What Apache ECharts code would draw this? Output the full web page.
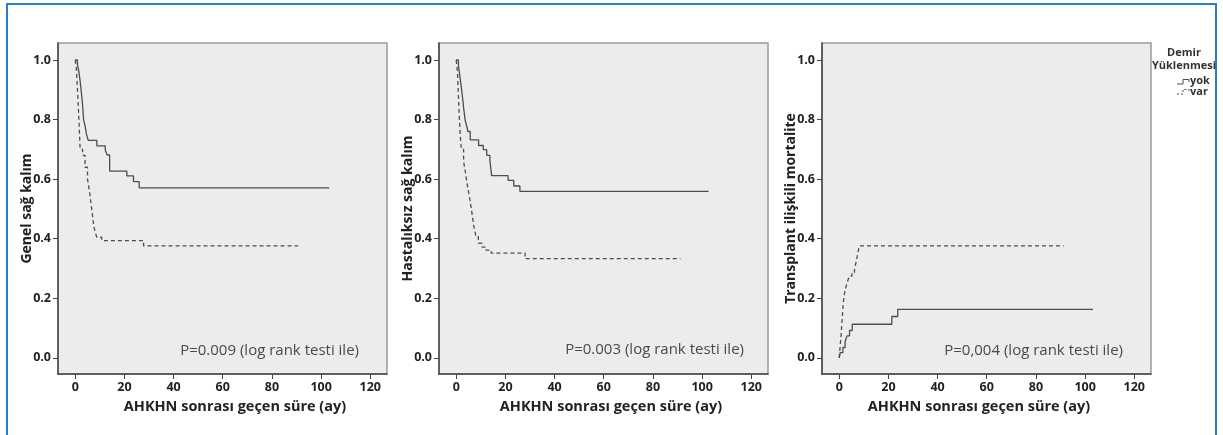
<!DOCTYPE html>
<html><head><meta charset="utf-8">
<script src="https://cdn.jsdelivr.net/npm/echarts@6/dist/echarts.min.js"></script>
<style>html,body{margin:0;padding:0;background:#fff}#c{width:1223px;height:435px}</style>
</head><body><div id="c"></div>
<script>
// ---- Data (Kaplan–Meier estimates) ----
const xTicks = [0, 20, 40, 60, 80, 100, 120];
const yTicks = [0, 0.2, 0.4, 0.6, 0.8, 1.0];
const xAxisTitle = 'AHKHN sonrası geçen süre (ay)';
const yAxisTitles = ['Genel sağ kalım', 'Hastalıksız sağ kalım', 'Transplant ilişkili mortalite'];
const pTexts = ['P=0.009 (log rank testi ile)', 'P=0.003 (log rank testi ile)', 'P=0,004 (log rank testi ile)'];
const legendTitle = ['Demir', 'Yüklenmesi'];
const groups = ['yok', 'var'];

// Panel 1: Genel sağ kalım
const os_yok_t = [0, 0.9, 1.5, 2.0, 2.5, 3.0, 3.4, 4.0, 4.6, 5.3, 8.8, 12.2, 13.0, 14.0, 21.0, 23.7, 26.0, 103.3];
const os_yok_s = [1.0, 0.985, 0.96, 0.93, 0.89, 0.85, 0.80, 0.78, 0.75, 0.73, 0.712, 0.698, 0.681, 0.627, 0.611, 0.592, 0.571, 0.571];
const os_var_t = [0, 0.5, 0.8, 1.1, 1.4, 1.7, 2.0, 3.0, 4.0, 5.0, 5.8, 6.4, 7.0, 7.6, 8.2, 8.8, 10.8, 27.8, 90.7];
const os_var_s = [1.0, 0.97, 0.92, 0.87, 0.82, 0.76, 0.70, 0.68, 0.64, 0.60, 0.56, 0.52, 0.48, 0.44, 0.42, 0.405, 0.394, 0.376, 0.376];

// Panel 2: Hastalıksız sağ kalım
const dfs_yok_t = [0, 0.9, 1.4, 1.9, 2.5, 3.0, 3.6, 4.2, 4.8, 5.7, 9.1, 11.0, 12.4, 13.7, 14.4, 21.1, 23.4, 25.9, 102.6];
const dfs_yok_s = [1.0, 0.982, 0.95, 0.92, 0.88, 0.84, 0.80, 0.78, 0.76, 0.732, 0.713, 0.699, 0.68, 0.663, 0.612, 0.596, 0.577, 0.559, 0.559];
const dfs_var_t = [0, 0.5, 0.9, 1.3, 1.7, 2.1, 3.0, 3.8, 4.5, 5.2, 5.8, 6.5, 7.2, 8.0, 9.0, 10.5, 12.0, 14.2, 28.0, 91.2];
const dfs_var_s = [1.0, 0.96, 0.88, 0.80, 0.74, 0.70, 0.66, 0.62, 0.58, 0.55, 0.52, 0.48, 0.44, 0.41, 0.385, 0.372, 0.362, 0.352, 0.333, 0.333];

// Panel 3: Transplant ilişkili mortalite
const trm_yok_t = [0, 0.4, 1.5, 2.4, 3.2, 4.2, 5.3, 21.4, 23.8, 103.2];
const trm_yok_s = [0.0, 0.018, 0.035, 0.055, 0.074, 0.092, 0.113, 0.139, 0.163, 0.163];
const trm_var_t = [0, 0.4, 0.8, 1.2, 1.6, 2.0, 2.8, 3.5, 4.2, 5.2, 6.2, 6.8, 7.3, 7.8, 8.2, 91.3];
const trm_var_s = [0.0, 0.04, 0.083, 0.13, 0.18, 0.21, 0.24, 0.26, 0.275, 0.285, 0.295, 0.32, 0.34, 0.36, 0.376, 0.376];

// ---- Layout / style ----
const FONT = '"Open Sans", "DejaVu Sans", sans-serif';
const LINE = '#4d4d4d';
const grids = [
  {left: 58, top: 43, width: 329, height: 331},
  {left: 439, top: 43, width: 329, height: 331},
  {left: 822, top: 43, width: 329, height: 331}
];
const xNamePad = [[0, 0, 0, 25], [0, 0, 0, 15], [0, 15, 0, 0]];
const pPos = [[359, 351], [744, 350], [1123, 351]];
const pairs = [[os_yok_t, os_yok_s, os_var_t, os_var_s], [dfs_yok_t, dfs_yok_s, dfs_var_t, dfs_var_s], [trm_yok_t, trm_yok_s, trm_var_t, trm_var_s]];

const zip = (t, s) => t.map((x, i) => [x, s[i]]);

const option = {
  animation: false,
  backgroundColor: '#ffffff',
  grid: grids.map(g => Object.assign({show: true, backgroundColor: '#ececec', borderColor: '#9a9a9a', borderWidth: 1.5}, g)),
  xAxis: grids.map((g, i) => ({
    type: 'value', gridIndex: i, min: -7, max: 126.8,
    name: xAxisTitle, nameLocation: 'middle', nameGap: 25,
    nameTextStyle: {fontFamily: FONT, fontWeight: 'bold', fontSize: 14.5, color: '#222', padding: xNamePad[i]},
    axisLine: {show: true, onZero: false, lineStyle: {color: '#444', width: 1.5}},
    axisTick: {show: true, length: 5, customValues: xTicks, lineStyle: {color: '#444'}},
    axisLabel: {customValues: xTicks, margin: 7, fontFamily: FONT, fontWeight: 'bold', fontSize: 12.5, color: '#222'},
    splitLine: {show: false}
  })),
  yAxis: grids.map((g, i) => ({
    type: 'value', gridIndex: i, min: -0.054, max: 1.057,
    name: yAxisTitles[i], nameLocation: 'middle', nameGap: 24, nameMoveOverlap: false,
    nameTextStyle: {fontFamily: FONT, fontWeight: 'bold', fontSize: 14, color: '#222'},
    axisLine: {show: true, onZero: false, lineStyle: {color: '#444', width: 1.5}},
    axisTick: {show: true, length: 5, customValues: yTicks, lineStyle: {color: '#444'}},
    axisLabel: {customValues: yTicks, margin: 7, fontFamily: FONT, fontWeight: 'bold', fontSize: 12.5, color: '#222',
      formatter: v => v.toFixed(1)},
    splitLine: {show: false}
  })),
  series: pairs.flatMap((p, i) => [
    {type: 'line', name: groups[0], xAxisIndex: i, yAxisIndex: i, step: 'end', showSymbol: false, symbol: 'none',
     data: zip(p[0], p[1]), lineStyle: {color: LINE, width: 1.3}},
    {type: 'line', name: groups[1], xAxisIndex: i, yAxisIndex: i, step: 'end', showSymbol: false, symbol: 'none',
     data: zip(p[2], p[3]), lineStyle: {color: LINE, width: 1.3, type: [4, 3]}}
  ]),
  graphic: [
    {type: 'rect', shape: {x: 7, y: 4, width: 1209, height: 440}, style: {fill: 'none', stroke: '#2a7ec1', lineWidth: 2}, z: 100},
    ...pTexts.map((t, i) => ({type: 'text', x: pPos[i][0], y: pPos[i][1],
      style: {text: t, font: '15px ' + FONT, fill: '#4a4a4a', textAlign: 'right', textVerticalAlign: 'middle'}, z: 50})),
    {type: 'text', x: 1184, y: 53, style: {text: legendTitle[0], font: 'bold 11px ' + FONT, fill: '#333', textAlign: 'center', textVerticalAlign: 'middle'}},
    {type: 'text', x: 1184, y: 66, style: {text: legendTitle[1], font: 'bold 11px ' + FONT, fill: '#333', textAlign: 'center', textVerticalAlign: 'middle'}},
    {type: 'polyline', shape: {points: [[1177, 84], [1183, 84], [1183, 79.5], [1189, 79.5], [1189, 82]]}, style: {stroke: LINE, lineWidth: 1, fill: 'none'}},
    {type: 'text', x: 1190, y: 81, style: {text: groups[0], font: 'bold 11px ' + FONT, fill: '#333', textAlign: 'left', textVerticalAlign: 'middle'}},
    {type: 'polyline', shape: {points: [[1177, 94], [1183, 94], [1183, 89.5], [1189, 89.5], [1189, 92]]}, style: {stroke: LINE, lineWidth: 1, fill: 'none', lineDash: [2, 2]}},
    {type: 'text', x: 1190, y: 92, style: {text: groups[1], font: 'bold 11px ' + FONT, fill: '#333', textAlign: 'left', textVerticalAlign: 'middle'}}
  ]
};
const chart = echarts.init(document.getElementById('c'), null, {renderer: 'canvas'});
chart.setOption(option);
</script></body></html>
